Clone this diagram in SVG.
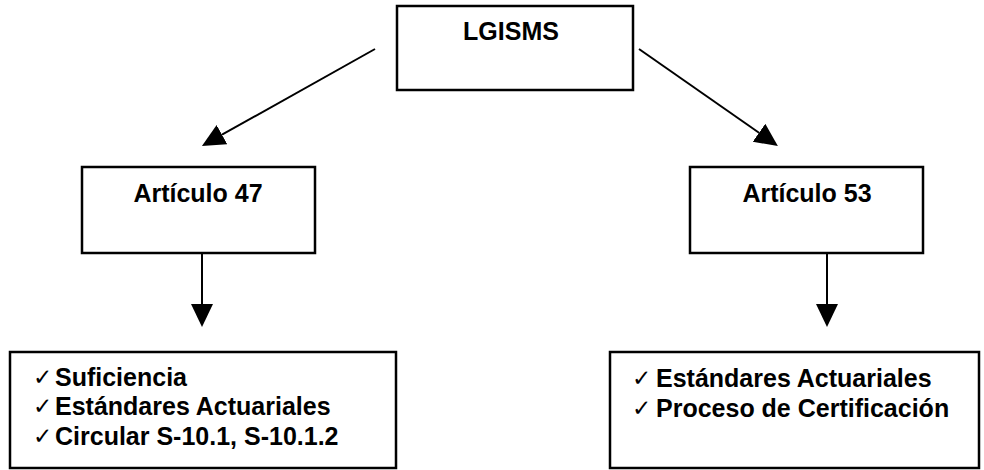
<svg xmlns="http://www.w3.org/2000/svg" width="984" height="470" viewBox="0 0 984 470">
  <style>
    .box { fill: #ffffff; stroke: #000000; stroke-width: 2.5; }
    .title { font-family: "Liberation Sans", Arial, sans-serif; font-weight: bold; font-size: 25px; fill: #000000; text-anchor: middle; }
    .item { font-family: "Liberation Sans", Arial, sans-serif; font-weight: bold; font-size: 25px; fill: #000000; }
    .tick { font-family: "DejaVu Sans", sans-serif; font-weight: normal; font-size: 23px; fill: #000000; }
    .edge { stroke: #000000; stroke-width: 2; fill: none; marker-end: url(#head); }
  </style>
  <defs>
    <marker id="head" markerUnits="userSpaceOnUse" markerWidth="24" markerHeight="23" refX="0" refY="11" orient="auto">
      <path d="M0,0 L23,11 L0,22 Z" fill="#000000"/>
    </marker>
  </defs>
  <rect width="984" height="470" fill="#ffffff"/>

  <g id="connectors">
    <line class="edge" x1="375" y1="49" x2="222" y2="134.7"/>
    <line class="edge" x1="639" y1="49" x2="759" y2="132.8"/>
    <line class="edge" x1="202" y1="254" x2="202" y2="304"/>
    <line class="edge" x1="827" y1="254" x2="827" y2="304"/>
  </g>

  <g id="lgisms">
    <rect class="box" x="397" y="6" width="236" height="84"/>
    <text class="title" x="511" y="40">LGISMS</text>
  </g>

  <g id="articulo-47">
    <rect class="box" x="82" y="167" width="233" height="86"/>
    <text class="title" x="198" y="202">Artículo 47</text>
  </g>

  <g id="articulo-53">
    <rect class="box" x="690" y="167" width="233" height="86"/>
    <text class="title" x="807" y="202">Artículo 53</text>
  </g>

  <g id="requisitos-47">
    <rect class="box" x="10" y="352" width="386" height="116"/>
    <text class="tick" x="33" y="385">✓</text>
    <text class="item" x="55" y="386">Suficiencia</text>
    <text class="tick" x="33" y="414">✓</text>
    <text class="item" x="55" y="415">Estándares Actuariales</text>
    <text class="tick" x="33" y="444">✓</text>
    <text class="item" x="55" y="445">Circular S-10.1, S-10.1.2</text>
  </g>

  <g id="requisitos-53">
    <rect class="box" x="610" y="352" width="369" height="116"/>
    <text class="tick" x="632" y="386">✓</text>
    <text class="item" x="656" y="387">Estándares Actuariales</text>
    <text class="tick" x="632" y="416">✓</text>
    <text class="item" x="656" y="417">Proceso de Certificación</text>
  </g>
</svg>
